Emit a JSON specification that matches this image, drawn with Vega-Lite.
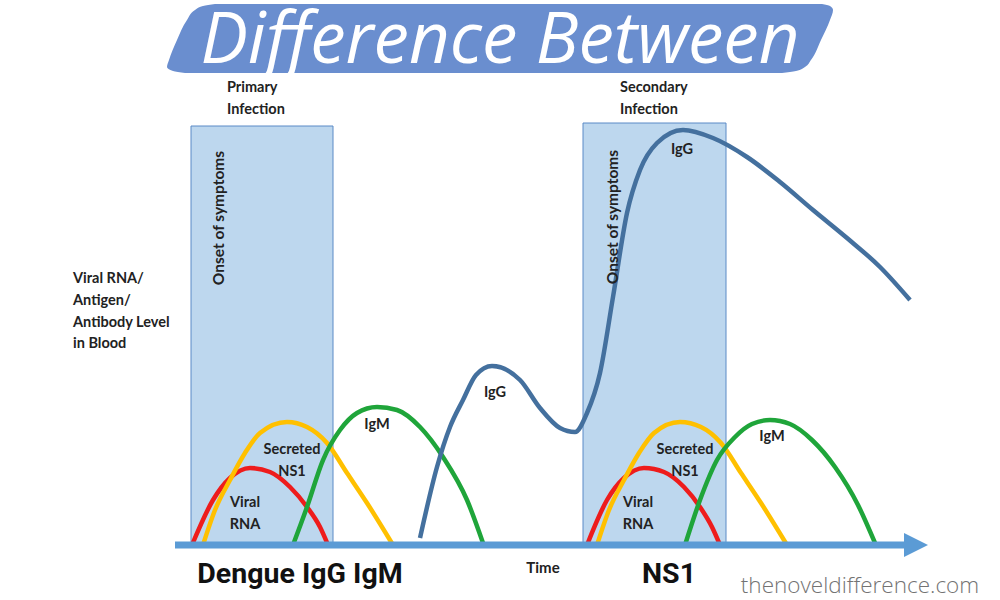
{
  "$schema": "https://vega.github.io/schema/vega-lite/v6.json",
  "width": 1000,
  "height": 600,
  "padding": 0,
  "autosize": {"type": "fit", "contains": "padding"},
  "background": "white",
  "config": {"view": {"stroke": null}},
  "datasets": {
    "banner": [
      {"level": 541, "xl": 215, "xr": 822},
      {"level": 539, "xl": 203, "xr": 830},
      {"level": 535, "xl": 195, "xr": 833},
      {"level": 525, "xl": 187, "xr": 830},
      {"level": 505, "xl": 177, "xr": 821},
      {"level": 485, "xl": 169, "xr": 811},
      {"level": 478, "xl": 167, "xr": 805},
      {"level": 474, "xl": 173, "xr": 796},
      {"level": 472, "xl": 185, "xr": 782}
    ],
    "title": [{"text": "Difference Between", "time": 500, "level": 482}],
    "boxes": [
      {"phase": "Primary", "x1": 191, "x2": 333, "l1": 0, "l2": 419},
      {"phase": "Secondary", "x1": 583, "x2": 726, "l1": 0, "l2": 422}
    ],
    "curves": [
      {"series": "Viral RNA", "curve": "p-rna", "time": 192, "level": 0},
      {"series": "Viral RNA", "curve": "p-rna", "time": 213, "level": 45},
      {"series": "Viral RNA", "curve": "p-rna", "time": 230, "level": 67},
      {"series": "Viral RNA", "curve": "p-rna", "time": 250, "level": 77},
      {"series": "Viral RNA", "curve": "p-rna", "time": 270, "level": 73},
      {"series": "Viral RNA", "curve": "p-rna", "time": 290, "level": 58},
      {"series": "Viral RNA", "curve": "p-rna", "time": 307, "level": 38},
      {"series": "Viral RNA", "curve": "p-rna", "time": 320, "level": 18},
      {"series": "Viral RNA", "curve": "p-rna", "time": 328, "level": 0},
      {"series": "Secreted NS1", "curve": "p-ns1", "time": 203, "level": 0},
      {"series": "Secreted NS1", "curve": "p-ns1", "time": 215, "level": 35},
      {"series": "Secreted NS1", "curve": "p-ns1", "time": 230, "level": 65},
      {"series": "Secreted NS1", "curve": "p-ns1", "time": 245, "level": 92},
      {"series": "Secreted NS1", "curve": "p-ns1", "time": 260, "level": 112},
      {"series": "Secreted NS1", "curve": "p-ns1", "time": 287, "level": 123},
      {"series": "Secreted NS1", "curve": "p-ns1", "time": 307, "level": 118},
      {"series": "Secreted NS1", "curve": "p-ns1", "time": 327, "level": 102},
      {"series": "Secreted NS1", "curve": "p-ns1", "time": 347, "level": 72},
      {"series": "Secreted NS1", "curve": "p-ns1", "time": 367, "level": 42},
      {"series": "Secreted NS1", "curve": "p-ns1", "time": 393, "level": 0},
      {"series": "IgM", "curve": "p-igm", "time": 293, "level": 0},
      {"series": "IgM", "curve": "p-igm", "time": 307, "level": 38},
      {"series": "IgM", "curve": "p-igm", "time": 323, "level": 85},
      {"series": "IgM", "curve": "p-igm", "time": 340, "level": 115},
      {"series": "IgM", "curve": "p-igm", "time": 357, "level": 132},
      {"series": "IgM", "curve": "p-igm", "time": 377, "level": 138},
      {"series": "IgM", "curve": "p-igm", "time": 397, "level": 135},
      {"series": "IgM", "curve": "p-igm", "time": 420, "level": 118},
      {"series": "IgM", "curve": "p-igm", "time": 443, "level": 88},
      {"series": "IgM", "curve": "p-igm", "time": 467, "level": 45},
      {"series": "IgM", "curve": "p-igm", "time": 483, "level": 2},
      {"series": "IgG", "curve": "igg", "time": 420, "level": 7},
      {"series": "IgG", "curve": "igg", "time": 437, "level": 78},
      {"series": "IgG", "curve": "igg", "time": 450, "level": 118},
      {"series": "IgG", "curve": "igg", "time": 463, "level": 145},
      {"series": "IgG", "curve": "igg", "time": 476, "level": 170},
      {"series": "IgG", "curve": "igg", "time": 492, "level": 179},
      {"series": "IgG", "curve": "igg", "time": 520, "level": 165},
      {"series": "IgG", "curve": "igg", "time": 540, "level": 137},
      {"series": "IgG", "curve": "igg", "time": 560, "level": 117},
      {"series": "IgG", "curve": "igg", "time": 575, "level": 113},
      {"series": "IgG", "curve": "igg", "time": 587, "level": 132},
      {"series": "IgG", "curve": "igg", "time": 600, "level": 172},
      {"series": "IgG", "curve": "igg", "time": 613, "level": 248},
      {"series": "IgG", "curve": "igg", "time": 627, "level": 332},
      {"series": "IgG", "curve": "igg", "time": 640, "level": 375},
      {"series": "IgG", "curve": "igg", "time": 657, "level": 402},
      {"series": "IgG", "curve": "igg", "time": 683, "level": 415},
      {"series": "IgG", "curve": "igg", "time": 713, "level": 407},
      {"series": "IgG", "curve": "igg", "time": 747, "level": 388},
      {"series": "IgG", "curve": "igg", "time": 780, "level": 363},
      {"series": "IgG", "curve": "igg", "time": 813, "level": 335},
      {"series": "IgG", "curve": "igg", "time": 847, "level": 307},
      {"series": "IgG", "curve": "igg", "time": 880, "level": 278},
      {"series": "IgG", "curve": "igg", "time": 910, "level": 245},
      {"series": "Viral RNA", "curve": "s-rna", "time": 587, "level": 0},
      {"series": "Viral RNA", "curve": "s-rna", "time": 607, "level": 45},
      {"series": "Viral RNA", "curve": "s-rna", "time": 624, "level": 67},
      {"series": "Viral RNA", "curve": "s-rna", "time": 644, "level": 77},
      {"series": "Viral RNA", "curve": "s-rna", "time": 664, "level": 73},
      {"series": "Viral RNA", "curve": "s-rna", "time": 684, "level": 58},
      {"series": "Viral RNA", "curve": "s-rna", "time": 700, "level": 38},
      {"series": "Viral RNA", "curve": "s-rna", "time": 712, "level": 18},
      {"series": "Viral RNA", "curve": "s-rna", "time": 720, "level": 0},
      {"series": "Secreted NS1", "curve": "s-ns1", "time": 597, "level": 0},
      {"series": "Secreted NS1", "curve": "s-ns1", "time": 609, "level": 35},
      {"series": "Secreted NS1", "curve": "s-ns1", "time": 624, "level": 65},
      {"series": "Secreted NS1", "curve": "s-ns1", "time": 639, "level": 92},
      {"series": "Secreted NS1", "curve": "s-ns1", "time": 654, "level": 112},
      {"series": "Secreted NS1", "curve": "s-ns1", "time": 680, "level": 123},
      {"series": "Secreted NS1", "curve": "s-ns1", "time": 701, "level": 118},
      {"series": "Secreted NS1", "curve": "s-ns1", "time": 721, "level": 102},
      {"series": "Secreted NS1", "curve": "s-ns1", "time": 741, "level": 72},
      {"series": "Secreted NS1", "curve": "s-ns1", "time": 761, "level": 42},
      {"series": "Secreted NS1", "curve": "s-ns1", "time": 787, "level": 0},
      {"series": "IgM", "curve": "s-igm", "time": 685, "level": 0},
      {"series": "IgM", "curve": "s-igm", "time": 700, "level": 45},
      {"series": "IgM", "curve": "s-igm", "time": 717, "level": 85},
      {"series": "IgM", "curve": "s-igm", "time": 735, "level": 108},
      {"series": "IgM", "curve": "s-igm", "time": 752, "level": 121},
      {"series": "IgM", "curve": "s-igm", "time": 770, "level": 125},
      {"series": "IgM", "curve": "s-igm", "time": 790, "level": 121},
      {"series": "IgM", "curve": "s-igm", "time": 812, "level": 105},
      {"series": "IgM", "curve": "s-igm", "time": 835, "level": 78},
      {"series": "IgM", "curve": "s-igm", "time": 858, "level": 40},
      {"series": "IgM", "curve": "s-igm", "time": 875, "level": 2}
    ],
    "axis": [{"t1": 175, "t2": 906, "level": 0}],
    "arrowhead": [{"time": 916, "level": 0}],
    "heads": [
      {"text": "Primary", "time": 227, "level": 457},
      {"text": "Infection", "time": 227, "level": 435},
      {"text": "Secondary", "time": 620, "level": 457},
      {"text": "Infection", "time": 620, "level": 435},
      {"text": "Viral RNA/", "time": 73, "level": 266},
      {"text": "Antigen/", "time": 73, "level": 244},
      {"text": "Antibody Level", "time": 73, "level": 222},
      {"text": "in Blood", "time": 73, "level": 201}
    ],
    "curveLabels": [
      {"text": "Viral", "time": 245, "level": 42},
      {"text": "RNA", "time": 245, "level": 20},
      {"text": "Secreted", "time": 292, "level": 95},
      {"text": "NS1", "time": 292, "level": 73},
      {"text": "IgM", "time": 377, "level": 120},
      {"text": "IgG", "time": 495, "level": 152},
      {"text": "Viral", "time": 638, "level": 42},
      {"text": "RNA", "time": 638, "level": 20},
      {"text": "Secreted", "time": 685, "level": 95},
      {"text": "NS1", "time": 685, "level": 73},
      {"text": "IgM", "time": 772, "level": 108},
      {"text": "IgG", "time": 682, "level": 395}
    ],
    "timeLabel": [{"text": "Time", "time": 543, "level": -28}],
    "onset": [
      {"text": "Onset of symptoms", "time": 219, "level": 327},
      {"text": "Onset of symptoms", "time": 613, "level": 328}
    ],
    "bigLabels": [
      {"text": "Dengue IgG IgM", "time": 300, "level": -38},
      {"text": "NS1", "time": 669, "level": -38}
    ],
    "site": [{"text": "thenoveldifference.com", "time": 860, "level": -48}]
  },
  "encoding": {
    "x": {"field": "time", "type": "quantitative", "scale": {"domain": [0, 1000], "nice": false, "zero": false}, "axis": null},
    "y": {"field": "level", "type": "quantitative", "scale": {"domain": [-55, 545], "nice": false, "zero": false}, "axis": null}
  },
  "layer": [
    {
      "data": {"name": "banner"},
      "mark": {"type": "area", "orient": "horizontal", "interpolate": "monotone", "color": "#6a8ecf"},
      "encoding": {
        "x": {"field": "xl", "type": "quantitative"},
        "x2": {"field": "xr"},
        "y": {"field": "level", "type": "quantitative", "sort": null}
      }
    },
    {
      "data": {"name": "title"},
      "mark": {"type": "text", "font": "Open Sans", "fontStyle": "italic", "fontSize": 71, "color": "white", "baseline": "alphabetic", "align": "center"},
      "encoding": {"text": {"field": "text"}}
    },
    {
      "data": {"name": "boxes"},
      "mark": {"type": "rect", "color": "#bdd7ee", "stroke": "#5b8ac6", "strokeWidth": 1},
      "encoding": {
        "x": {"field": "x1", "type": "quantitative"},
        "x2": {"field": "x2"},
        "y": {"field": "l1", "type": "quantitative"},
        "y2": {"field": "l2"}
      }
    },
    {
      "data": {"name": "curves"},
      "mark": {"type": "line", "interpolate": "monotone", "strokeWidth": 4.5},
      "encoding": {
        "detail": {"field": "curve"},
        "color": {"field": "series", "type": "nominal", "legend": null,
          "scale": {"domain": ["Viral RNA", "Secreted NS1", "IgM", "IgG"], "range": ["#ee1c1c", "#ffc000", "#1fa53a", "#44709e"]}}
      }
    },
    {
      "data": {"name": "axis"},
      "mark": {"type": "rule", "color": "#5b9bd5", "strokeWidth": 7},
      "encoding": {
        "x": {"field": "t1", "type": "quantitative"},
        "x2": {"field": "t2"}
      }
    },
    {
      "data": {"name": "arrowhead"},
      "mark": {"type": "point", "shape": "M-1,-1L1,0L-1,1Z", "size": 576, "filled": true, "color": "#5b9bd5", "opacity": 1}
    },
    {
      "data": {"name": "heads"},
      "mark": {"type": "text", "font": "Lato", "fontWeight": "bold", "fontSize": 14.5, "color": "#222222", "align": "left", "baseline": "middle"},
      "encoding": {"text": {"field": "text"}}
    },
    {
      "data": {"name": "curveLabels"},
      "mark": {"type": "text", "font": "Lato", "fontWeight": "bold", "fontSize": 14.5, "color": "#222222", "align": "center", "baseline": "middle"},
      "encoding": {"text": {"field": "text"}}
    },
    {
      "data": {"name": "timeLabel"},
      "mark": {"type": "text", "font": "Lato", "fontWeight": "bold", "fontSize": 15, "color": "#222222", "align": "center", "baseline": "alphabetic"},
      "encoding": {"text": {"field": "text"}}
    },
    {
      "data": {"name": "onset"},
      "mark": {"type": "text", "font": "Lato", "fontWeight": "bold", "fontSize": 15.5, "color": "#222222", "align": "center", "baseline": "middle", "angle": 270},
      "encoding": {"text": {"field": "text"}}
    },
    {
      "data": {"name": "bigLabels"},
      "mark": {"type": "text", "font": "Roboto", "fontWeight": "bold", "fontSize": 28.5, "color": "#111111", "align": "center", "baseline": "alphabetic"},
      "encoding": {"text": {"field": "text"}}
    },
    {
      "data": {"name": "site"},
      "mark": {"type": "text", "font": "Open Sans", "fontWeight": 300, "fontSize": 22.5, "color": "#737373", "align": "center", "baseline": "alphabetic"},
      "encoding": {"text": {"field": "text"}}
    }
  ]
}
